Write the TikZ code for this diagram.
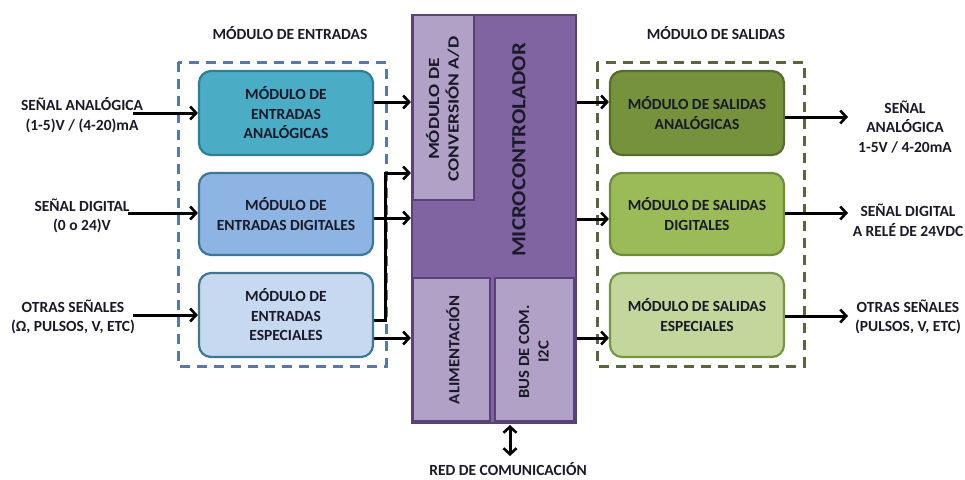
\documentclass[tikz,border=0pt]{standalone}
\usepackage{fontspec}
\setmainfont{Carlito}[BoldFont={Carlito Bold}]
\usetikzlibrary{arrows.meta,positioning}
\definecolor{inblue}{RGB}{90,120,165}
\definecolor{outgreen}{RGB}{90,100,65}
\definecolor{txt}{RGB}{25,25,40}
\definecolor{tealfill}{RGB}{75,172,198}
\definecolor{tealdraw}{RGB}{50,125,145}
\definecolor{bluefill}{RGB}{142,180,227}
\definecolor{bluedraw}{RGB}{60,120,150}
\definecolor{lbluefill}{RGB}{198,217,241}
\definecolor{lbluedraw}{RGB}{60,120,150}
\definecolor{dgreenfill}{RGB}{118,146,60}
\definecolor{dgreendraw}{RGB}{85,110,45}
\definecolor{mgreenfill}{RGB}{155,187,89}
\definecolor{mgreendraw}{RGB}{110,140,60}
\definecolor{lgreenfill}{RGB}{195,214,155}
\definecolor{lgreendraw}{RGB}{120,150,70}
\definecolor{purpfill}{RGB}{128,100,162}
\definecolor{purpdraw}{RGB}{90,65,120}
\definecolor{lpurpfill}{RGB}{178,161,199}
\tikzset{
  lbl/.style={font=\fontsize{15.5}{19.5}\selectfont\bfseries, align=center, text=txt},
  modbox/.style={rounded corners=12pt, line width=2.2pt, minimum width=174pt, minimum height=84pt, lbl},
  group/.style={line width=3pt, dash pattern=on 10pt off 7pt},
  sig/.style={line width=3pt, -{Straight Barb[length=6pt,width=13pt,line width=2.6pt]}},
  sigb/.style={line width=3pt, {Straight Barb[length=6pt,width=13pt,line width=2.6pt]}-{Straight Barb[length=6pt,width=13pt,line width=2.6pt]}},
  sub/.style={fill=lpurpfill, draw=purpdraw, line width=1.8pt},
}
\begin{document}
\begin{tikzpicture}[x=1pt,y=-1pt]
\useasboundingbox (0,0) rectangle (965,479);
% groups
\draw[group, draw=inblue] (178,62) rectangle (386,366);
\draw[group, draw=outgreen] (597,62) rectangle (804,366);
\node[lbl] (tin) at (290,33) {MÓDULO DE ENTRADAS};
\node[lbl] (tout) at (716,33) {MÓDULO DE SALIDAS};
% input modules
\node[modbox, fill=tealfill, draw=tealdraw] (ia) at (286,113) {MÓDULO DE\\ENTRADAS\\ANALÓGICAS};
\node[modbox, fill=bluefill, draw=bluedraw, minimum height=82pt] (id) at (286,214) {MÓDULO DE\\ENTRADAS DIGITALES};
\node[modbox, fill=lbluefill, draw=lbluedraw] (ie) at (286,315) {MÓDULO DE\\ENTRADAS\\ESPECIALES};
% output modules
\node[modbox, fill=dgreenfill, draw=dgreendraw] (oa) at (697,113) {MÓDULO DE SALIDAS\\ANALÓGICAS};
\node[modbox, fill=mgreenfill, draw=mgreendraw, minimum height=82pt] (od) at (697,214) {MÓDULO DE SALIDAS\\DIGITALES};
\node[modbox, fill=lgreenfill, draw=lgreendraw] (oe) at (697,315) {MÓDULO DE SALIDAS\\ESPECIALES};
% microcontroller
\node[fill=purpfill, draw=purpdraw, line width=2.2pt, minimum width=164pt, minimum height=408pt, inner sep=0pt] (mcu) at (494,219) {};
\node[sub, minimum width=61pt, minimum height=185pt, inner sep=0pt] (adc) at (443.5,107.5) {};
\node[lbl, rotate=90, inner sep=0pt] (adct) at (445,109) {\scalebox{1.25}[1]{\begin{tabular}{@{}c@{}}MÓDULO DE\\CONVERSIÓN A/D\end{tabular}}};
\node[sub, minimum width=77pt, minimum height=143pt, inner sep=0pt] (ali) at (451.5,349.5) {};
\node[lbl, rotate=90, inner sep=0pt] (alit) at (453,350) {\scalebox{1.08}[1]{ALIMENTACIÓN}};
\node[sub, minimum width=79pt, minimum height=143pt, inner sep=0pt] (bus) at (534.5,349.5) {};
\node[lbl, rotate=90, inner sep=0pt] (bust) at (535,352) {\scalebox{1.08}[1]{\begin{tabular}{@{}c@{}}BUS DE COM.\\I2C\end{tabular}}};
\node[lbl, rotate=90, inner sep=0pt, font=\fontsize{20}{22}\selectfont\bfseries] (mct) at (519,150) {\scalebox{1.14}[1]{MICROCONTROLADOR}};
% side labels
\node[lbl] (sa) at (82,115) {SEÑAL ANALÓGICA\\(1-5)V / (4-20)mA};
\node[lbl] (sd) at (82,216) {SEÑAL DIGITAL\\(0 o 24)V};
\node[lbl] (so) at (73,317) {OTRAS SEÑALES\\(Ω, PULSOS, V, ETC)};
\node[lbl] (ra) at (905,127) {SEÑAL\\ANALÓGICA\\1-5V / 4-20mA};
\node[lbl] (rd) at (908,220) {SEÑAL DIGITAL\\A RELÉ DE 24VDC};
\node[lbl] (ro) at (908,317) {OTRAS SEÑALES\\(PULSOS, V, ETC)};
\node[lbl] (red) at (508,469) {RED DE COMUNICACIÓN};
% coordinates
\coordinate (a1) at (133,113);
\coordinate (a2) at (128,213);
\coordinate (a3) at (133,315);
\coordinate (e1) at (848,117);
\coordinate (e2) at (848,213);
\coordinate (e3) at (848,316);
\coordinate (n1) at (510,425);
\coordinate (n2) at (510,456);
% input arrows
\draw[sig] (a1) -- (ia.west |- a1);
\draw[sig] (a2) -- (id.west |- a2);
\draw[sig] (a3) -- (ie.west |- a3);
% to mcu
\draw[sig] (ia.east |- 0,102) -- (mcu.west |- 0,102);
\draw[sig] (id.east |- 0,218) -- (mcu.west |- 0,218);
\draw[sig] (ie.east |- 0,320) -- (385,320) -- (385,173) -- (mcu.west |- 0,173);
\draw[sig] (ie.east |- 0,338) -- (mcu.west |- 0,338);
% from mcu
\draw[sig] (mcu.east |- 0,102) -- (oa.west |- 0,102);
\draw[sig] (mcu.east |- 0,219) -- (od.west |- 0,219);
\draw[sig] (mcu.east |- 0,338) -- (oe.west |- 0,338);
% outputs
\draw[sig] (oa.east |- e1) -- (e1);
\draw[sig] (od.east |- e2) -- (e2);
\draw[sig] (oe.east |- e3) -- (e3);
% network
\draw[sigb] (n1) -- (n2);
\end{tikzpicture}
\end{document}
